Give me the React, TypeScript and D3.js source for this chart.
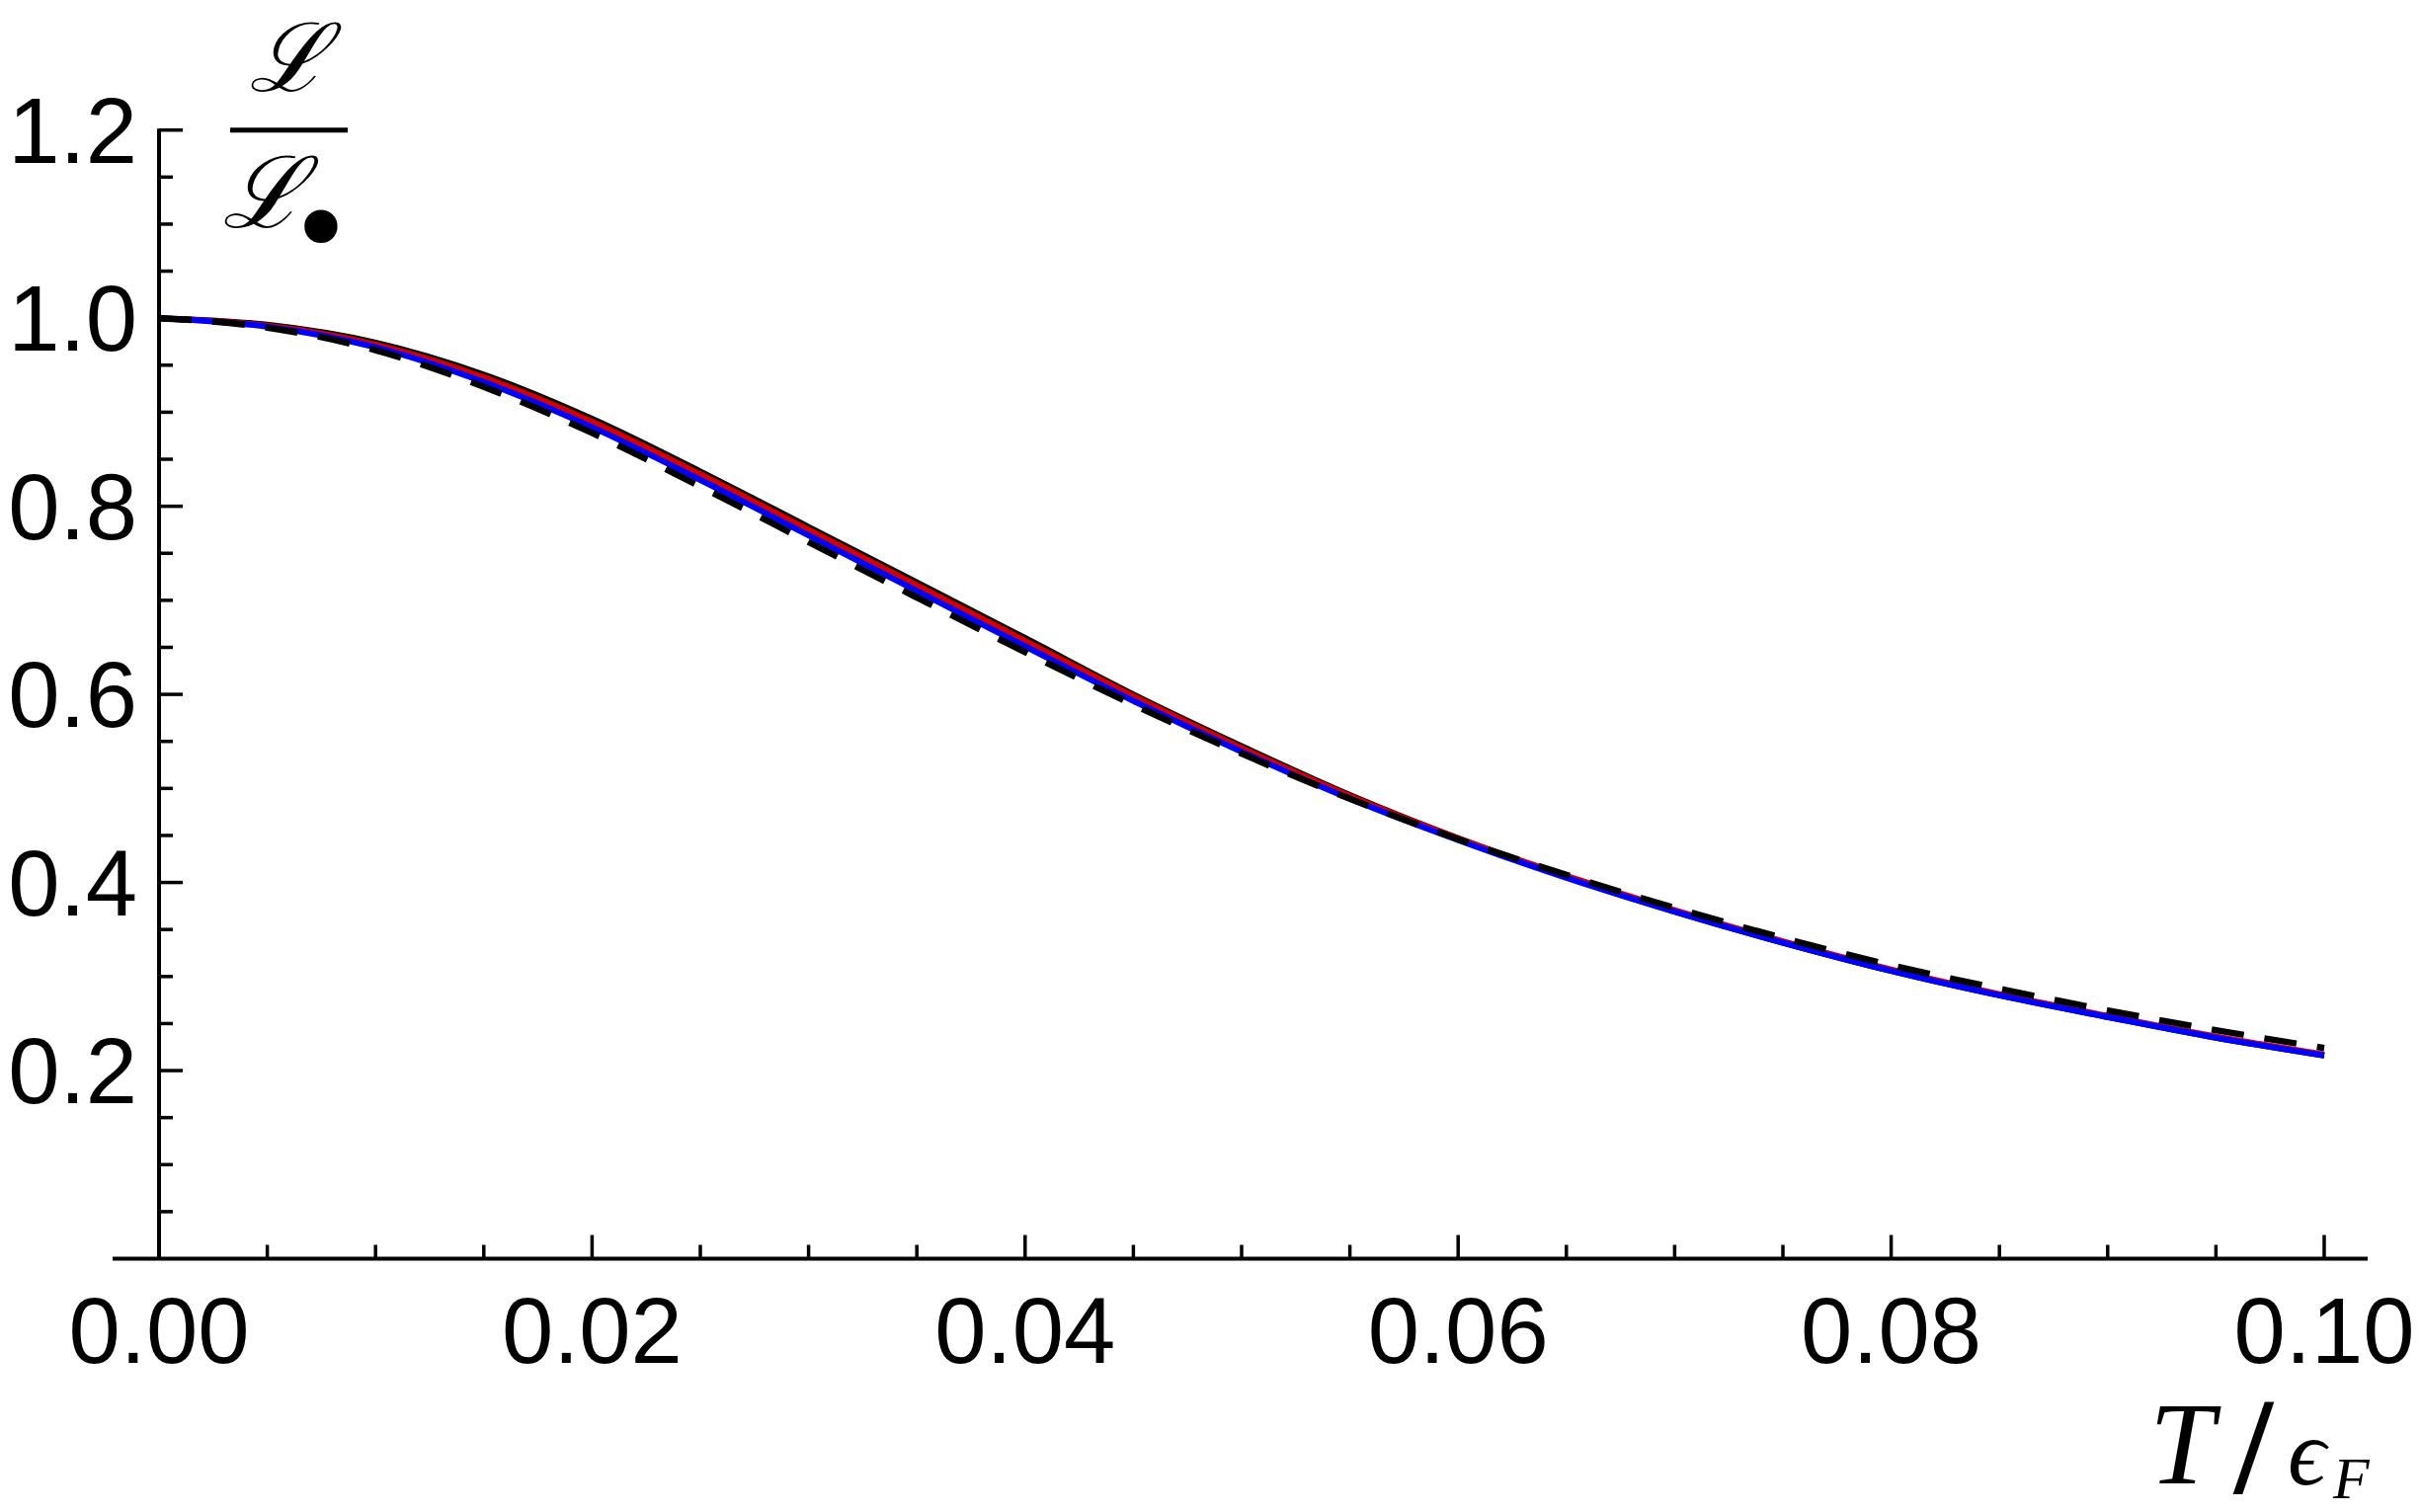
import React, { useEffect } from "react";
import * as d3 from "d3";

// ---- data ----
const tGrid = [0, 0.005, 0.01, 0.015, 0.02, 0.025, 0.03, 0.035, 0.04, 0.045, 0.05, 0.055, 0.06, 0.065, 0.07, 0.075, 0.08, 0.085, 0.09, 0.095, 0.1];
const blackSolid = [1.0, 0.993, 0.974, 0.94, 0.893, 0.837, 0.778, 0.719, 0.66, 0.6, 0.545, 0.493, 0.447, 0.406, 0.369, 0.336, 0.306, 0.28, 0.257, 0.235, 0.216];
const redSolid = [1.0, 0.992, 0.972, 0.937, 0.89, 0.834, 0.775, 0.716, 0.657, 0.598, 0.543, 0.492, 0.447, 0.407, 0.3705, 0.3375, 0.3075, 0.2813, 0.2582, 0.2362, 0.217];
const blueSolid = [1.0, 0.991, 0.969, 0.932, 0.884, 0.828, 0.769, 0.71, 0.651, 0.593, 0.539, 0.489, 0.445, 0.405, 0.369, 0.336, 0.306, 0.28, 0.257, 0.235, 0.216];
const blackDashed = [1.0, 0.99, 0.966, 0.927, 0.878, 0.821, 0.762, 0.703, 0.645, 0.589, 0.537, 0.489, 0.446, 0.408, 0.373, 0.341, 0.312, 0.287, 0.264, 0.243, 0.224];

const xMajorTicks = [0, 0.02, 0.04, 0.06, 0.08, 0.1];
const xTickLabels = ["0.00", "0.02", "0.04", "0.06", "0.08", "0.10"];
const yMajorTicks = [0.2, 0.4, 0.6, 0.8, 1.0, 1.2];
const yTickLabels = ["0.2", "0.4", "0.6", "0.8", "1.0", "1.2"];
const xMinorStep = 0.005;
const yMinorStep = 0.05;

const W = 2451;
const H = 1531;

export default function App() {
  useEffect(() => {
    document.body.style.margin = "0";
    document.body.style.overflow = "hidden";
  }, []);

  const x = d3.scaleLinear().domain([0, 0.1]).range([161, 2353]);
  const y = d3.scaleLinear().domain([0, 1.2]).range([1274.5, 131.7]);

  const line = (vals: number[]) =>
    d3
      .line<number>()
      .x((_, i) => x(tGrid[i]))
      .y((v) => y(v))
      .curve(d3.curveMonotoneX)(vals) || "";

  const xMinor = d3.range(0, 0.1 + 1e-9, xMinorStep).filter((v) => !xMajorTicks.some((m) => Math.abs(m - v) < 1e-9));
  const yMinor = d3.range(yMinorStep, 1.2 + 1e-9, yMinorStep).filter((v) => !yMajorTicks.some((m) => Math.abs(m - v) < 1e-9));

  const axisFont = "'Liberation Sans', Arial, Helvetica, sans-serif";
  const mathFont = "'Liberation Serif', 'DejaVu Serif', serif";

  return (
    <svg width={W} height={H} viewBox={`0 0 ${W} ${H}`} style={{ position: "absolute", left: 0, top: 0, display: "block", background: "#fff" }}>
      <rect x={0} y={0} width={W} height={H} fill="#fff" />
      {/* curves */}
      <g fill="none" strokeLinejoin="round">
        <path d={line(blackSolid)} stroke="#000" strokeWidth={6} />
        <path d={line(redSolid)} stroke="#d40000" strokeWidth={6} />
        <path d={line(blueSolid)} stroke="#0000ff" strokeWidth={6} />
        <path d={line(blackDashed)} stroke="#000" strokeWidth={6.5} strokeDasharray="33 21" />
      </g>
      {/* axes */}
      <g stroke="#000" strokeLinecap="butt">
        <line x1={114} x2={2397} y1={y(0)} y2={y(0)} strokeWidth={4} />
        <line x1={x(0)} x2={x(0)} y1={y(0)} y2={y(1.2) - 1.5} strokeWidth={4} />
        {xMajorTicks.map((t) => (
          <line key={"xM" + t} x1={x(t)} x2={x(t)} y1={y(0)} y2={y(0) - 24} strokeWidth={3.5} />
        ))}
        {xMinor.map((t) => (
          <line key={"xm" + t} x1={x(t)} x2={x(t)} y1={y(0)} y2={y(0) - 14} strokeWidth={3.5} />
        ))}
        {yMajorTicks.map((v) => (
          <line key={"yM" + v} x1={x(0)} x2={x(0) + 24} y1={y(v)} y2={y(v)} strokeWidth={3.5} />
        ))}
        {yMinor.map((v) => (
          <line key={"ym" + v} x1={x(0)} x2={x(0) + 14} y1={y(v)} y2={y(v)} strokeWidth={3.5} />
        ))}
      </g>
      {/* tick labels */}
      <g fontFamily={axisFont} fontSize={94} fill="#000">
        {xMajorTicks.map((t, i) => (
          <text key={"xl" + i} x={x(t)} y={1380} textAnchor="middle">
            {xTickLabels[i]}
          </text>
        ))}
        {yMajorTicks.map((v, i) => (
          <text key={"yl" + i} x={139} y={y(v) + 33} textAnchor="end">
            {yTickLabels[i]}
          </text>
        ))}
      </g>
      {/* x axis label T/ϵ_F */}
      <g fontFamily={mathFont} fontStyle="italic" fill="#000">
        <text x={2176} y={1502} fontSize={118}>T</text>
        <text x={2262} y={1512} fontSize={140} fontStyle="normal" fontWeight="bold">/</text>
        <text x={2316} y={1503} fontSize={96}>ϵ</text>
        <text x={2362} y={1517} fontSize={60}>F</text>
      </g>
      {/* y axis label L / L• */}
      <g fill="#000">
        <text x={292} y={92} fontSize={96} textAnchor="middle" fontFamily="'DejaVu Serif', serif" fontStyle="italic">ℒ</text>
        <line x1={233} x2={352} y1={131.7} y2={131.7} stroke="#000" strokeWidth={5} />
        <text x={266} y={230} fontSize={100} textAnchor="middle" fontFamily="'DejaVu Serif', serif" fontStyle="italic">ℒ</text>
        <text x={325} y={272} fontSize={115} textAnchor="middle" fontFamily="'DejaVu Sans', sans-serif">•</text>
      </g>
    </svg>
  );
}
